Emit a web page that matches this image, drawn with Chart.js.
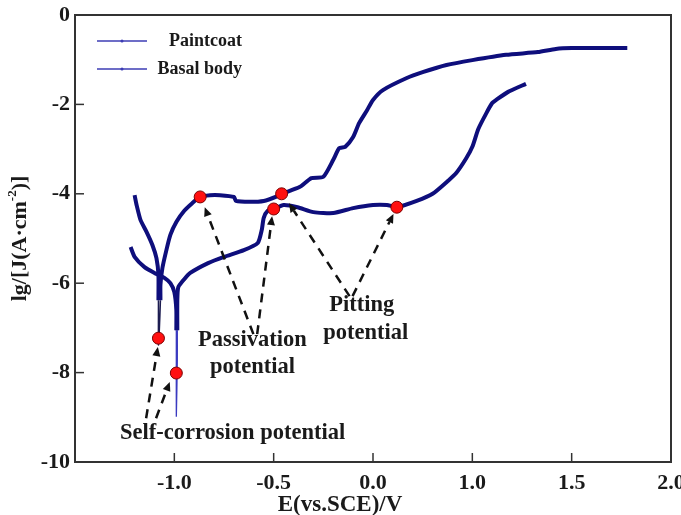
<!DOCTYPE html>
<html>
<head>
<meta charset="utf-8">
<script src="https://cdn.jsdelivr.net/npm/chart.js@4.4.0/dist/chart.umd.min.js"></script>
<style>
  html, body { margin: 0; padding: 0; background: #fff; }
</style>
</head>
<body>
<canvas id="polarization" width="681" height="515"></canvas>
<script>
// Basal body curve (Ecorr near -1.08 V), sweep order
const basalX = [-1.20, -1.19, -1.17, -1.14, -1.11, -1.09, -1.08, -1.08, -1.08, -1.08,
                -1.07, -1.07, -1.06, -1.04, -1.02, -0.99, -0.95, -0.91, -0.87, -0.82,
                -0.77, -0.70, -0.69, -0.62, -0.55, -0.48, -0.46, -0.37, -0.31, -0.25,
                -0.20, -0.17, -0.14, -0.10, -0.07, -0.03, 0.00, 0.05, 0.17, 0.25,
                0.37, 0.50, 0.67, 0.83, 0.92, 1.00, 1.17, 1.28];
const basalY = [-4.03, -4.25, -4.59, -4.85, -5.15, -5.44, -5.82, -6.38, -6.82, -7.38,
                -6.38, -6.04, -5.66, -5.26, -4.92, -4.63, -4.38, -4.21, -4.07, -4.03,
                -4.03, -4.07, -4.16, -4.18, -4.16, -4.05, -4.00, -3.85, -3.65, -3.62,
                -3.24, -2.98, -2.95, -2.73, -2.42, -2.13, -1.90, -1.68, -1.41, -1.28,
                -1.12, -1.01, -0.89, -0.83, -0.76, -0.74, -0.74, -0.74];

// Paintcoat curve (Ecorr near -0.99 V)
const paintX = [-1.22, -1.20, -1.15, -1.10, -1.05, -1.02, -1.00, -0.99, -0.99, -0.99,
                -0.99, -0.985, -0.985, -0.985, -0.98, -0.95, -0.92, -0.83, -0.75, -0.65,
                -0.58, -0.56, -0.55, -0.53, -0.50, -0.45, -0.38, -0.30, -0.20, -0.10,
                0.00, 0.07, 0.12, 0.22, 0.30, 0.38, 0.42, 0.47, 0.50, 0.53,
                0.57, 0.60, 0.62, 0.68, 0.77];
const paintY = [-5.19, -5.41, -5.64, -5.77, -5.88, -6.00, -6.20, -6.60, -7.05, -7.72,
                -8.99, -7.72, -7.05, -6.38, -6.09, -5.91, -5.77, -5.55, -5.41, -5.26,
                -5.10, -4.81, -4.54, -4.38, -4.34, -4.25, -4.30, -4.41, -4.43, -4.32,
                -4.25, -4.25, -4.30, -4.16, -4.00, -3.70, -3.53, -3.20, -2.95, -2.55,
                -2.20, -1.97, -1.90, -1.72, -1.54];

// red marked points: passivation, pitting, self-corrosion
const markerX = [-0.87, -0.46, -0.50, 0.12, -1.08, -0.99];
const markerY = [-4.07, -4.00, -4.34, -4.30, -7.23, -8.01];

const xTickLabels = ['', '-1.0', '-0.5', '0.0', '1.0', '1.5', '2.0'];

// dashed arrows [fromX, fromY, toX, toY]
const arrows = [
    [-1.142, -9.02, -1.083, -7.43],
    [-1.092, -9.02, -1.023, -8.21],
    [-0.602, -7.14, -0.847, -4.30],
    [-0.583, -7.14, -0.508, -4.50],
    [-0.118, -6.29, -0.423, -4.21],
    [-0.103, -6.29, 0.103, -4.45]
];
const notes = [
    ['Passivation', -0.607, -7.27],
    ['potential', -0.607, -7.87],
    ['Pitting', -0.057, -6.49],
    ['potential', -0.037, -7.11],
    ['Self-corrosion potential', -0.707, -9.35]
];

const serif = "'Liberation Serif', 'Times New Roman', serif";
const navy = '#0e0e7c';

const toPts = (xs, ys) => xs.map((v, i) => ({ x: v, y: ys[i] }));
const isThin = (ctx, lim) => ctx.p0.parsed.y < lim || ctx.p1.parsed.y < lim;

function drawArrow(ctx, x0, y0, x1, y1) {
    const ang = Math.atan2(y1 - y0, x1 - x0);
    const head = 9;
    const ex = x1 - Math.cos(ang) * head;
    const ey = y1 - Math.sin(ang) * head;
    ctx.setLineDash([9, 7]);
    ctx.beginPath();
    ctx.moveTo(x0, y0);
    ctx.lineTo(ex, ey);
    ctx.stroke();
    ctx.setLineDash([]);
    ctx.beginPath();
    ctx.moveTo(x1, y1);
    ctx.lineTo(ex + Math.sin(ang) * 4, ey - Math.cos(ang) * 4);
    ctx.lineTo(ex - Math.sin(ang) * 4, ey + Math.cos(ang) * 4);
    ctx.closePath();
    ctx.fill();
}

const decorPlugin = {
    id: 'decor',
    beforeDatasetsDraw(chart) {
        const { ctx, chartArea: a, scales: { x, y } } = chart;
        ctx.save();
        ctx.strokeStyle = '#333';
        ctx.lineWidth = 1.5;
        x.ticks.forEach(t => {
            const px = x.getPixelForValue(t.value);
            ctx.beginPath();
            ctx.moveTo(px, a.bottom);
            ctx.lineTo(px, a.bottom - 9);
            ctx.stroke();
        });
        y.ticks.forEach(t => {
            const py = y.getPixelForValue(t.value);
            ctx.beginPath();
            ctx.moveTo(a.left, py);
            ctx.lineTo(a.left + 9, py);
            ctx.stroke();
        });
        ctx.lineWidth = 2;
        ctx.strokeRect(a.left, a.top, a.right - a.left, a.bottom - a.top);
        ctx.restore();
    },
    afterDatasetsDraw(chart) {
        const { ctx, chartArea: a, scales: { x, y } } = chart;
        ctx.save();
        // arrows
        ctx.strokeStyle = '#111';
        ctx.fillStyle = '#111';
        ctx.lineWidth = 2.5;
        arrows.forEach(([x0, y0, x1, y1]) => {
            drawArrow(ctx, x.getPixelForValue(x0), y.getPixelForValue(y0),
                x.getPixelForValue(x1), y.getPixelForValue(y1));
        });
        // notes
        ctx.font = 'bold 22.5px ' + serif;
        ctx.fillStyle = '#1a1a1a';
        ctx.textAlign = 'center';
        ctx.textBaseline = 'middle';
        notes.forEach(([txt, nx, ny]) => {
            ctx.fillText(txt, x.getPixelForValue(nx), y.getPixelForValue(ny));
        });
        // legend inside the plot, top-left
        const items = chart.data.datasets.filter(d => d.label);
        items.forEach((d, i) => {
            const ly = a.top + 26 + i * 28;
            ctx.strokeStyle = '#3c3cb4';
            ctx.lineWidth = 1.5;
            ctx.beginPath();
            ctx.moveTo(a.left + 22, ly);
            ctx.lineTo(a.left + 72, ly);
            ctx.stroke();
            ctx.fillStyle = '#3c3cb4';
            ctx.beginPath();
            ctx.arc(a.left + 47, ly, 1.5, 0, Math.PI * 2);
            ctx.fill();
            ctx.font = 'bold 18px ' + serif;
            ctx.fillStyle = '#1a1a1a';
            ctx.textAlign = 'right';
            ctx.fillText(d.label, a.left + 167, ly);
        });
        ctx.restore();
    },
    afterDraw(chart) {
        const { ctx, chartArea: a } = chart;
        ctx.save();
        ctx.fillStyle = '#1a1a1a';
        ctx.textBaseline = 'middle';
        ctx.textAlign = 'center';
        ctx.font = 'bold 23px ' + serif;
        ctx.fillText('E(vs.SCE)/V', 340, 505);
        // y title with superscript
        const parts = [['lg/[J(A\u00b7cm', 22, 0], ['-2', 13, -7], [')]', 22, 0]];
        let total = 0;
        parts.forEach(p => { ctx.font = 'bold ' + p[1] + 'px ' + serif; total += ctx.measureText(p[0]).width; });
        ctx.translate(20, (a.top + a.bottom) / 2);
        ctx.rotate(-Math.PI / 2);
        ctx.textAlign = 'left';
        let cx = -total / 2;
        parts.forEach(p => {
            ctx.font = 'bold ' + p[1] + 'px ' + serif;
            ctx.fillText(p[0], cx, p[2]);
            cx += ctx.measureText(p[0]).width;
        });
        ctx.restore();
    }
};

new Chart(document.getElementById('polarization').getContext('2d'), {
    type: 'scatter',
    data: {
        datasets: [
            {
                data: toPts(markerX, markerY),
                pointRadius: 6,
                pointBackgroundColor: '#ff1010',
                pointBorderColor: '#7a0000',
                pointBorderWidth: 1,
                showLine: false
            },
            {
                label: 'Paintcoat',
                data: toPts(paintX, paintY),
                showLine: true,
                pointRadius: 0,
                tension: 0.2,
                borderColor: navy,
                borderWidth: 4,
                segment: {
                    borderWidth: ctx => isThin(ctx, -7.1) ? 1.3 : 4,
                    borderColor: ctx => isThin(ctx, -7.1) ? '#3a3ac0' : navy
                }
            },
            {
                label: 'Basal body',
                data: toPts(basalX, basalY),
                showLine: true,
                pointRadius: 0,
                tension: 0.2,
                borderColor: navy,
                borderWidth: 4,
                segment: {
                    borderWidth: ctx => isThin(ctx, -6.4) ? 1.5 : 4,
                    borderColor: ctx => isThin(ctx, -6.4) ? '#1c1c50' : navy
                }
            }
        ]
    },
    options: {
        responsive: false,
        animation: false,
        devicePixelRatio: 1,
        layout: { padding: { top: 15, right: 10, left: 0, bottom: 0 } },
        plugins: {
            legend: { display: false },
            tooltip: { enabled: false }
        },
        scales: {
            x: {
                type: 'linear',
                min: -1.5,
                max: 1.5,
                grid: { display: false, drawTicks: false },
                border: { display: false },
                ticks: {
                    stepSize: 0.5,
                    autoSkip: false,
                    maxRotation: 0,
                    padding: 8,
                    color: '#1a1a1a',
                    font: { family: serif, size: 22, weight: 'bold' },
                    callback: (v, i) => xTickLabels[i]
                },
                afterFit: s => { s.height = 53; s.paddingRight = 10; s.paddingLeft = 0; }
            },
            y: {
                type: 'linear',
                min: -10,
                max: 0,
                grid: { display: false, drawTicks: false },
                border: { display: false },
                ticks: {
                    stepSize: 2,
                    padding: 5,
                    color: '#1a1a1a',
                    font: { family: serif, size: 22, weight: 'bold' }
                },
                afterFit: s => { s.width = 75; s.paddingTop = 0; s.paddingBottom = 0; }
            }
        }
    },
    plugins: [decorPlugin]
});
</script>
</body>
</html>
